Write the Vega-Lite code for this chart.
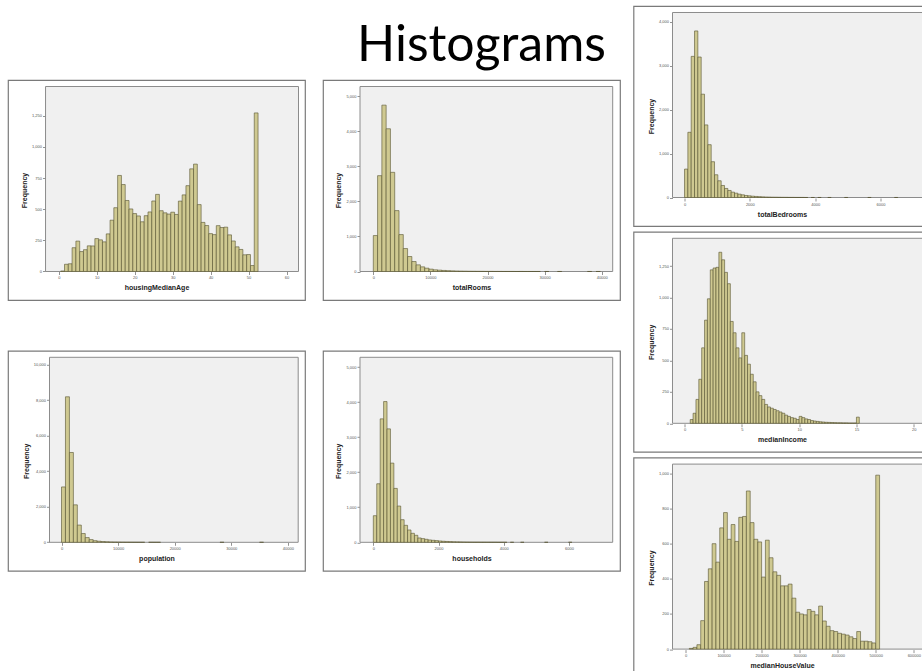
{
  "$schema": "https://vega.github.io/schema/vega-lite/v6.json",
  "background": "white",
  "padding": {"left": 7, "top": 5, "right": 0, "bottom": 0},
  "datasets": {
    "heading": [{"t": "Histograms"}],
    "housingMedianAge": [
      {"lo":0.5,"hi":1.5,"n":4},{"lo":1.5,"hi":2.5,"n":58},{"lo":2.5,"hi":3.5,"n":62},{"lo":3.5,"hi":4.5,"n":191},{"lo":4.5,"hi":5.5,"n":244},
      {"lo":5.5,"hi":6.5,"n":160},{"lo":6.5,"hi":7.5,"n":175},{"lo":7.5,"hi":8.5,"n":206},{"lo":8.5,"hi":9.5,"n":205},{"lo":9.5,"hi":10.5,"n":264},
      {"lo":10.5,"hi":11.5,"n":254},{"lo":11.5,"hi":12.5,"n":238},{"lo":12.5,"hi":13.5,"n":302},{"lo":13.5,"hi":14.5,"n":412},{"lo":14.5,"hi":15.5,"n":512},
      {"lo":15.5,"hi":16.5,"n":771},{"lo":16.5,"hi":17.5,"n":698},{"lo":17.5,"hi":18.5,"n":570},{"lo":18.5,"hi":19.5,"n":502},{"lo":19.5,"hi":20.5,"n":465},
      {"lo":20.5,"hi":21.5,"n":446},{"lo":21.5,"hi":22.5,"n":399},{"lo":22.5,"hi":23.5,"n":448},{"lo":23.5,"hi":24.5,"n":478},{"lo":24.5,"hi":25.5,"n":566},
      {"lo":25.5,"hi":26.5,"n":619},{"lo":26.5,"hi":27.5,"n":488},{"lo":27.5,"hi":28.5,"n":471},{"lo":28.5,"hi":29.5,"n":461},{"lo":29.5,"hi":30.5,"n":476},
      {"lo":30.5,"hi":31.5,"n":458},{"lo":31.5,"hi":32.5,"n":565},{"lo":32.5,"hi":33.5,"n":615},{"lo":33.5,"hi":34.5,"n":689},{"lo":34.5,"hi":35.5,"n":824},
      {"lo":35.5,"hi":36.5,"n":862},{"lo":36.5,"hi":37.5,"n":537},{"lo":37.5,"hi":38.5,"n":394},{"lo":38.5,"hi":39.5,"n":369},{"lo":39.5,"hi":40.5,"n":304},
      {"lo":40.5,"hi":41.5,"n":296},{"lo":41.5,"hi":42.5,"n":368},{"lo":42.5,"hi":43.5,"n":353},{"lo":43.5,"hi":44.5,"n":356},{"lo":44.5,"hi":45.5,"n":294},
      {"lo":45.5,"hi":46.5,"n":245},{"lo":46.5,"hi":47.5,"n":198},{"lo":47.5,"hi":48.5,"n":177},{"lo":48.5,"hi":49.5,"n":134},{"lo":49.5,"hi":50.5,"n":136},
      {"lo":50.5,"hi":51.5,"n":48},{"lo":51.5,"hi":52.5,"n":1273}
    ],
    "totalRooms": [
      {"lo":0,"hi":750,"n":1027},{"lo":750,"hi":1500,"n":2738},{"lo":1500,"hi":2250,"n":4753},{"lo":2250,"hi":3000,"n":4078},{"lo":3000,"hi":3750,"n":2833},
      {"lo":3750,"hi":4500,"n":1740},{"lo":4500,"hi":5250,"n":1055},{"lo":5250,"hi":6000,"n":656},{"lo":6000,"hi":6750,"n":428},{"lo":6750,"hi":7500,"n":285},
      {"lo":7500,"hi":8250,"n":190},{"lo":8250,"hi":9000,"n":133},{"lo":9000,"hi":9750,"n":95},{"lo":9750,"hi":10500,"n":67},{"lo":10500,"hi":11250,"n":48},
      {"lo":11250,"hi":12000,"n":38},{"lo":12000,"hi":12750,"n":30},{"lo":12750,"hi":13500,"n":24},{"lo":13500,"hi":14250,"n":19},{"lo":14250,"hi":15000,"n":15},
      {"lo":15000,"hi":15750,"n":12},{"lo":15750,"hi":16500,"n":10},{"lo":16500,"hi":17250,"n":8},{"lo":17250,"hi":18000,"n":7},{"lo":18000,"hi":18750,"n":6},
      {"lo":18750,"hi":19500,"n":5},{"lo":19500,"hi":20250,"n":4},{"lo":20250,"hi":21000,"n":4},{"lo":21000,"hi":21750,"n":3},{"lo":21750,"hi":22500,"n":3},
      {"lo":22500,"hi":23250,"n":2},{"lo":23250,"hi":24000,"n":2},{"lo":24000,"hi":24750,"n":2},{"lo":24750,"hi":25500,"n":1},{"lo":25500,"hi":26250,"n":2},
      {"lo":26250,"hi":27000,"n":1},{"lo":27000,"hi":27750,"n":1},{"lo":27750,"hi":28500,"n":1},{"lo":28500,"hi":29250,"n":1},{"lo":30000,"hi":30750,"n":1},
      {"lo":32250,"hi":33000,"n":1},{"lo":37500,"hi":38250,"n":1},{"lo":39000,"hi":39750,"n":1}
    ],
    "population": [
      {"lo":0,"hi":700,"n":3118},{"lo":700,"hi":1400,"n":8194},{"lo":1400,"hi":2100,"n":5057},{"lo":2100,"hi":2800,"n":2110},{"lo":2800,"hi":3500,"n":970},
      {"lo":3500,"hi":4200,"n":494},{"lo":4200,"hi":4900,"n":266},{"lo":4900,"hi":5600,"n":152},{"lo":5600,"hi":6300,"n":90},{"lo":6300,"hi":7000,"n":60},
      {"lo":7000,"hi":7700,"n":40},{"lo":7700,"hi":8400,"n":28},{"lo":8400,"hi":9100,"n":18},{"lo":9100,"hi":9800,"n":13},{"lo":9800,"hi":10500,"n":9},
      {"lo":10500,"hi":11200,"n":7},{"lo":11200,"hi":11900,"n":5},{"lo":11900,"hi":12600,"n":4},{"lo":12600,"hi":13300,"n":3},{"lo":13300,"hi":14000,"n":2},
      {"lo":14000,"hi":14700,"n":2},{"lo":15400,"hi":16100,"n":2},{"lo":16100,"hi":16800,"n":1},{"lo":16800,"hi":17500,"n":1},{"lo":28000,"hi":28700,"n":1},
      {"lo":35000,"hi":35700,"n":1}
    ],
    "households": [
      {"lo":1,"hi":106,"n":760},{"lo":106,"hi":211,"n":1673},{"lo":211,"hi":316,"n":3527},{"lo":316,"hi":421,"n":4021},{"lo":421,"hi":526,"n":3241},
      {"lo":526,"hi":631,"n":2262},{"lo":631,"hi":736,"n":1540},{"lo":736,"hi":841,"n":1036},{"lo":841,"hi":946,"n":646},{"lo":946,"hi":1051,"n":485},
      {"lo":1051,"hi":1156,"n":352},{"lo":1156,"hi":1261,"n":257},{"lo":1261,"hi":1366,"n":200},{"lo":1366,"hi":1471,"n":124},{"lo":1471,"hi":1576,"n":105},
      {"lo":1576,"hi":1681,"n":86},{"lo":1681,"hi":1786,"n":67},{"lo":1786,"hi":1891,"n":57},{"lo":1891,"hi":1996,"n":48},{"lo":1996,"hi":2101,"n":38},
      {"lo":2101,"hi":2206,"n":30},{"lo":2206,"hi":2311,"n":24},{"lo":2311,"hi":2416,"n":19},{"lo":2416,"hi":2521,"n":15},{"lo":2521,"hi":2626,"n":12},
      {"lo":2626,"hi":2731,"n":10},{"lo":2731,"hi":2836,"n":8},{"lo":2836,"hi":2941,"n":6},{"lo":2941,"hi":3046,"n":5},{"lo":3046,"hi":3151,"n":4},
      {"lo":3151,"hi":3256,"n":4},{"lo":3256,"hi":3361,"n":3},{"lo":3361,"hi":3466,"n":3},{"lo":3466,"hi":3571,"n":2},{"lo":3571,"hi":3676,"n":2},
      {"lo":3676,"hi":3781,"n":2},{"lo":3781,"hi":3886,"n":1},{"lo":3886,"hi":3991,"n":1},{"lo":3991,"hi":4096,"n":1},{"lo":4201,"hi":4306,"n":1},
      {"lo":4516,"hi":4621,"n":1},{"lo":5251,"hi":5356,"n":1},{"lo":5986,"hi":6091,"n":1}
    ],
    "totalBedrooms": [
      {"lo":1,"hi":103,"n":647},{"lo":103,"hi":205,"n":1485},{"lo":205,"hi":307,"n":3214},{"lo":307,"hi":409,"n":3793},{"lo":409,"hi":511,"n":3199},
      {"lo":511,"hi":613,"n":2353},{"lo":613,"hi":715,"n":1653},{"lo":715,"hi":817,"n":1203},{"lo":817,"hi":919,"n":815},{"lo":919,"hi":1021,"n":518},
      {"lo":1021,"hi":1123,"n":381},{"lo":1123,"hi":1225,"n":274},{"lo":1225,"hi":1327,"n":206},{"lo":1327,"hi":1429,"n":160},{"lo":1429,"hi":1531,"n":122},
      {"lo":1531,"hi":1633,"n":99},{"lo":1633,"hi":1735,"n":76},{"lo":1735,"hi":1837,"n":61},{"lo":1837,"hi":1939,"n":46},{"lo":1939,"hi":2041,"n":38},
      {"lo":2041,"hi":2143,"n":30},{"lo":2143,"hi":2245,"n":24},{"lo":2245,"hi":2347,"n":19},{"lo":2347,"hi":2449,"n":15},{"lo":2449,"hi":2551,"n":12},
      {"lo":2551,"hi":2653,"n":10},{"lo":2653,"hi":2755,"n":8},{"lo":2755,"hi":2857,"n":7},{"lo":2857,"hi":2959,"n":6},{"lo":2959,"hi":3061,"n":5},
      {"lo":3061,"hi":3163,"n":4},{"lo":3163,"hi":3265,"n":3},{"lo":3265,"hi":3367,"n":3},{"lo":3367,"hi":3469,"n":2},{"lo":3469,"hi":3571,"n":2},
      {"lo":3571,"hi":3673,"n":2},{"lo":3673,"hi":3775,"n":1},{"lo":3877,"hi":3979,"n":1},{"lo":4081,"hi":4183,"n":1},{"lo":4387,"hi":4489,"n":1},
      {"lo":4897,"hi":4999,"n":1},{"lo":5611,"hi":5713,"n":1},{"lo":6427,"hi":6529,"n":1}
    ],
    "medianIncome": [
      {"lo":0.5,"hi":0.75,"n":30},{"lo":0.75,"hi":1,"n":80},{"lo":1,"hi":1.25,"n":190},{"lo":1.25,"hi":1.5,"n":350},{"lo":1.5,"hi":1.75,"n":600},
      {"lo":1.75,"hi":2,"n":820},{"lo":2,"hi":2.25,"n":990},{"lo":2.25,"hi":2.5,"n":1220},{"lo":2.5,"hi":2.75,"n":1235},{"lo":2.75,"hi":3,"n":1240},
      {"lo":3,"hi":3.25,"n":1360},{"lo":3.25,"hi":3.5,"n":1300},{"lo":3.5,"hi":3.75,"n":1200},{"lo":3.75,"hi":4,"n":1110},{"lo":4,"hi":4.25,"n":810},
      {"lo":4.25,"hi":4.5,"n":720},{"lo":4.5,"hi":4.75,"n":600},{"lo":4.75,"hi":5,"n":520},{"lo":5,"hi":5.25,"n":720},{"lo":5.25,"hi":5.5,"n":540},
      {"lo":5.5,"hi":5.75,"n":470},{"lo":5.75,"hi":6,"n":390},{"lo":6,"hi":6.25,"n":330},{"lo":6.25,"hi":6.5,"n":250},{"lo":6.5,"hi":6.75,"n":220},
      {"lo":6.75,"hi":7,"n":190},{"lo":7,"hi":7.25,"n":150},{"lo":7.25,"hi":7.5,"n":130},{"lo":7.5,"hi":7.75,"n":120},{"lo":7.75,"hi":8,"n":110},
      {"lo":8,"hi":8.25,"n":100},{"lo":8.25,"hi":8.5,"n":90},{"lo":8.5,"hi":8.75,"n":80},{"lo":8.75,"hi":9,"n":65},{"lo":9,"hi":9.25,"n":55},
      {"lo":9.25,"hi":9.5,"n":45},{"lo":9.5,"hi":9.75,"n":40},{"lo":9.75,"hi":10,"n":30},{"lo":10,"hi":10.25,"n":55},{"lo":10.25,"hi":10.5,"n":45},
      {"lo":10.5,"hi":10.75,"n":35},{"lo":10.75,"hi":11,"n":30},{"lo":11,"hi":11.25,"n":22},{"lo":11.25,"hi":11.5,"n":18},{"lo":11.5,"hi":11.75,"n":15},
      {"lo":11.75,"hi":12,"n":12},{"lo":12,"hi":12.25,"n":10},{"lo":12.25,"hi":12.5,"n":8},{"lo":12.5,"hi":12.75,"n":7},{"lo":12.75,"hi":13,"n":6},
      {"lo":13,"hi":13.25,"n":5},{"lo":13.25,"hi":13.5,"n":4},{"lo":13.5,"hi":13.75,"n":4},{"lo":13.75,"hi":14,"n":3},{"lo":14,"hi":14.25,"n":3},
      {"lo":14.25,"hi":14.5,"n":2},{"lo":14.5,"hi":14.75,"n":2},{"lo":14.75,"hi":15,"n":2},{"lo":15,"hi":15.25,"n":49}
    ],
    "medianHouseValue": [
      {"lo":10000,"hi":20000,"n":4},{"lo":20000,"hi":30000,"n":10},{"lo":30000,"hi":40000,"n":25},{"lo":40000,"hi":50000,"n":162},{"lo":50000,"hi":60000,"n":385},
      {"lo":60000,"hi":70000,"n":457},{"lo":70000,"hi":80000,"n":600},{"lo":80000,"hi":90000,"n":495},{"lo":90000,"hi":100000,"n":690},{"lo":100000,"hi":110000,"n":777},
      {"lo":110000,"hi":120000,"n":625},{"lo":120000,"hi":130000,"n":709},{"lo":130000,"hi":140000,"n":613},{"lo":140000,"hi":150000,"n":750},{"lo":150000,"hi":160000,"n":755},
      {"lo":160000,"hi":170000,"n":900},{"lo":170000,"hi":180000,"n":720},{"lo":180000,"hi":190000,"n":625},{"lo":190000,"hi":200000,"n":610},{"lo":200000,"hi":210000,"n":410},
      {"lo":210000,"hi":220000,"n":620},{"lo":220000,"hi":230000,"n":520},{"lo":230000,"hi":240000,"n":440},{"lo":240000,"hi":250000,"n":420},{"lo":250000,"hi":260000,"n":360},
      {"lo":260000,"hi":270000,"n":360},{"lo":270000,"hi":280000,"n":370},{"lo":280000,"hi":290000,"n":290},{"lo":290000,"hi":300000,"n":210},{"lo":300000,"hi":310000,"n":200},
      {"lo":310000,"hi":320000,"n":195},{"lo":320000,"hi":330000,"n":225},{"lo":330000,"hi":340000,"n":215},{"lo":340000,"hi":350000,"n":195},{"lo":350000,"hi":360000,"n":245},
      {"lo":360000,"hi":370000,"n":160},{"lo":370000,"hi":380000,"n":130},{"lo":380000,"hi":390000,"n":105},{"lo":390000,"hi":400000,"n":100},{"lo":400000,"hi":410000,"n":90},
      {"lo":410000,"hi":420000,"n":85},{"lo":420000,"hi":430000,"n":80},{"lo":430000,"hi":440000,"n":70},{"lo":440000,"hi":450000,"n":60},{"lo":450000,"hi":460000,"n":100},
      {"lo":460000,"hi":470000,"n":45},{"lo":470000,"hi":480000,"n":45},{"lo":480000,"hi":490000,"n":42},{"lo":490000,"hi":500000,"n":35},{"lo":500000,"hi":510000,"n":990}
    ]
  },
  "spacing": 11.5,
  "hconcat": [
    {
      "spacing": 8,
      "vconcat": [
        {
          "width": 598, "height": 54.5,
          "view": {"stroke": null, "fill": null},
          "data": {"name": "heading"},
          "mark": {"type": "text", "align": "right", "baseline": "alphabetic", "font": "Lato", "fontSize": 50, "color": "#000000"},
          "encoding": {
            "text": {"field": "t"},
            "x": {"datum": 1, "type": "quantitative", "scale": {"domain": [0, 1]}, "axis": null},
            "y": {"datum": 0, "type": "quantitative", "scale": {"domain": [0, 1]}, "axis": null}
          }
        },
        {
          "spacing": 48.8,
          "vconcat": [
            {
              "spacing": 16,
              "hconcat": [
                {
                  "width": 297, "height": 220,
                  "layer": [
                    {"data": {"values": [{}]}, "mark": {"type": "rect", "fill": "#f0f0f0", "stroke": "#8c8c8c", "strokeWidth": 1},
                     "encoding": {"x": {"datum": -3.5, "type": "quantitative"}, "x2": {"datum": 63.16}, "y": {"datum": 0, "type": "quantitative"}, "y2": {"datum": 1485}}},
                    {"data": {"name": "housingMedianAge"}, "mark": {"type": "rect", "fill": "#cfc991", "stroke": "#55532f", "strokeWidth": 0.6},
                     "encoding": {
                       "x": {"field": "lo", "type": "quantitative", "scale": {"domain": [-13.39, 64.87], "nice": false, "zero": false}, "axis": {"title": "housingMedianAge", "values": [0,10,20,30,40,50,60], "format": "d", "offset": -28.5}},
                       "x2": {"field": "hi"},
                       "y": {"field": "n", "type": "quantitative", "scale": {"domain": [-228.8, 1537.2], "nice": false, "zero": false}, "axis": {"title": "Frequency", "values": [0,250,500,750,1000,1250], "format": ",d", "offset": -37.5}},
                       "y2": {"datum": 0}
                     }}
                  ]
                },
                {
                  "width": 297, "height": 220,
                  "layer": [
                    {"data": {"values": [{}]}, "mark": {"type": "rect", "fill": "#f0f0f0", "stroke": "#8c8c8c", "strokeWidth": 1},
                     "encoding": {"x": {"datum": -2329, "type": "quantitative"}, "x2": {"datum": 41920}, "y": {"datum": 0, "type": "quantitative"}, "y2": {"datum": 5285}}},
                    {"data": {"name": "totalRooms"}, "mark": {"type": "rect", "fill": "#cfc991", "stroke": "#55532f", "strokeWidth": 0.6},
                     "encoding": {
                       "x": {"field": "lo", "type": "quantitative", "scale": {"domain": [-8808, 43198], "nice": false, "zero": false}, "axis": {"title": "totalRooms", "values": [0,10000,20000,30000,40000], "format": "d", "offset": -28.5}},
                       "x2": {"field": "hi"},
                       "y": {"field": "n", "type": "quantitative", "scale": {"domain": [-814.2, 5471], "nice": false, "zero": false}, "axis": {"title": "Frequency", "values": [0,1000,2000,3000,4000,5000], "format": ",d", "offset": -37}},
                       "y2": {"datum": 0}
                     }}
                  ]
                }
              ]
            },
            {
              "spacing": 16,
              "hconcat": [
                {
                  "width": 297, "height": 220,
                  "layer": [
                    {"data": {"values": [{}]}, "mark": {"type": "rect", "fill": "#f0f0f0", "stroke": "#8c8c8c", "strokeWidth": 1},
                     "encoding": {"x": {"datum": -2121, "type": "quantitative"}, "x2": {"datum": 41825}, "y": {"datum": 0, "type": "quantitative"}, "y2": {"datum": 10418}}},
                    {"data": {"name": "population"}, "mark": {"type": "rect", "fill": "#cfc991", "stroke": "#55532f", "strokeWidth": 0.6},
                     "encoding": {
                       "x": {"field": "lo", "type": "quantitative", "scale": {"domain": [-9455, 43027], "nice": false, "zero": false}, "axis": {"title": "population", "values": [0,10000,20000,30000,40000], "format": "d", "offset": -28.5}},
                       "x2": {"field": "hi"},
                       "y": {"field": "n", "type": "quantitative", "scale": {"domain": [-1605, 10784], "nice": false, "zero": false}, "axis": {"title": "Frequency", "values": [0,2000,4000,6000,8000,10000], "format": ",d", "offset": -41.5}},
                       "y2": {"datum": 0}
                     }}
                  ]
                },
                {
                  "width": 297, "height": 220,
                  "layer": [
                    {"data": {"values": [{}]}, "mark": {"type": "rect", "fill": "#f0f0f0", "stroke": "#8c8c8c", "strokeWidth": 1},
                     "encoding": {"x": {"datum": -408, "type": "quantitative"}, "x2": {"datum": 7340}, "y": {"datum": 0, "type": "quantitative"}, "y2": {"datum": 5285}}},
                    {"data": {"name": "households"}, "mark": {"type": "rect", "fill": "#cfc991", "stroke": "#55532f", "strokeWidth": 0.6},
                     "encoding": {
                       "x": {"field": "lo", "type": "quantitative", "scale": {"domain": [-1542, 7564], "nice": false, "zero": false}, "axis": {"title": "households", "values": [0,2000,4000,6000], "format": "d", "offset": -28.5}},
                       "x2": {"field": "hi"},
                       "y": {"field": "n", "type": "quantitative", "scale": {"domain": [-814.2, 5471], "nice": false, "zero": false}, "axis": {"title": "Frequency", "values": [0,1000,2000,3000,4000,5000], "format": ",d", "offset": -37}},
                       "y2": {"datum": 0}
                     }}
                  ]
                }
              ]
            }
          ]
        }
      ]
    },
    {
      "spacing": 3.8,
      "vconcat": [
        {
          "width": 297, "height": 220,
          "layer": [
            {"data": {"values": [{}]}, "mark": {"type": "rect", "fill": "#f0f0f0", "stroke": "#8c8c8c", "strokeWidth": 1},
             "encoding": {"x": {"datum": -367, "type": "quantitative"}, "x2": {"datum": 7377}, "y": {"datum": 0, "type": "quantitative"}, "y2": {"datum": 4213}}},
            {"data": {"name": "totalBedrooms"}, "mark": {"type": "rect", "fill": "#cfc991", "stroke": "#55532f", "strokeWidth": 0.6},
             "encoding": {
               "x": {"field": "lo", "type": "quantitative", "scale": {"domain": [-1561, 7530], "nice": false, "zero": false}, "axis": {"title": "totalBedrooms", "values": [0,2000,4000,6000], "format": "d", "offset": -28}},
               "x2": {"field": "hi"},
               "y": {"field": "n", "type": "quantitative", "scale": {"domain": [-649, 4361], "nice": false, "zero": false}, "axis": {"title": "Frequency", "values": [0,1000,2000,3000,4000], "format": ",d", "offset": -39}},
               "y2": {"datum": 0}
             }}
          ]
        },
        {
          "width": 297, "height": 220,
          "layer": [
            {"data": {"values": [{}]}, "mark": {"type": "rect", "fill": "#f0f0f0", "stroke": "#8c8c8c", "strokeWidth": 1},
             "encoding": {"x": {"datum": -1.047, "type": "quantitative"}, "x2": {"datum": 21.02}, "y": {"datum": 0, "type": "quantitative"}, "y2": {"datum": 1471}}},
            {"data": {"name": "medianIncome"}, "mark": {"type": "rect", "fill": "#cfc991", "stroke": "#55532f", "strokeWidth": 0.6},
             "encoding": {
               "x": {"field": "lo", "type": "quantitative", "scale": {"domain": [-4.448, 21.46], "nice": false, "zero": false}, "axis": {"title": "medianIncome", "values": [0,5,10,15,20], "format": "d", "offset": -28}},
               "x2": {"field": "hi"},
               "y": {"field": "n", "type": "quantitative", "scale": {"domain": [-226.6, 1522.6], "nice": false, "zero": false}, "axis": {"title": "Frequency", "values": [0,250,500,750,1000,1250], "format": ",d", "offset": -39}},
               "y2": {"datum": 0}
             }}
          ]
        },
        {
          "width": 297, "height": 220,
          "layer": [
            {"data": {"values": [{}]}, "mark": {"type": "rect", "fill": "#f0f0f0", "stroke": "#8c8c8c", "strokeWidth": 1},
             "encoding": {"x": {"datum": -34164, "type": "quantitative"}, "x2": {"datum": 630720}, "y": {"datum": 0, "type": "quantitative"}, "y2": {"datum": 1053}}},
            {"data": {"name": "medianHouseValue"}, "mark": {"type": "rect", "fill": "#cfc991", "stroke": "#55532f", "strokeWidth": 0.6},
             "encoding": {
               "x": {"field": "lo", "type": "quantitative", "scale": {"domain": [-136656, 643860], "nice": false, "zero": false}, "axis": {"title": "medianHouseValue", "values": [0,100000,200000,300000,400000,500000,600000], "format": "d", "offset": -28}},
               "x2": {"field": "hi"},
               "y": {"field": "n", "type": "quantitative", "scale": {"domain": [-162.2, 1090], "nice": false, "zero": false}, "axis": {"title": "Frequency", "values": [0,200,400,600,800,1000], "format": ",d", "offset": -39}},
               "y2": {"datum": 0}
             }}
          ]
        }
      ]
    }
  ],
  "config": {
    "view": {"stroke": "#7a7a7a", "strokeWidth": 1.2, "fill": "white"},
    "axis": {"domain": false, "grid": false, "tickSize": 3, "tickColor": "#777777", "tickWidth": 0.8, "labelFontSize": 4, "labelColor": "#555555", "labelFont": "Liberation Sans", "labelPadding": 1, "titleFont": "Liberation Sans", "titleFontSize": 7, "titleFontWeight": "bold", "titleColor": "#222222", "titlePadding": 4}
  }
}
